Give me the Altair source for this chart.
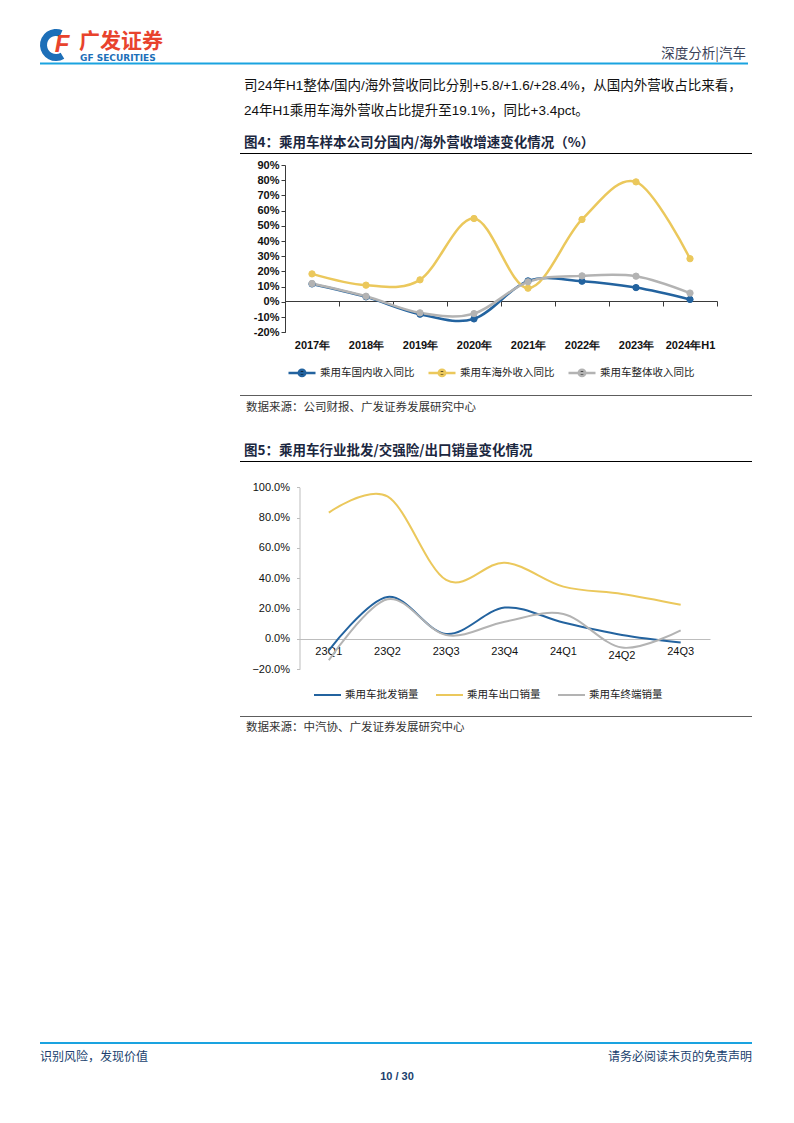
import altair as alt
import pandas as pd

W, H = 778, 1107


def P(v):
    """page pixel -> chart pixel (page has 8px margin)"""
    return v - 8


# ---------------- data ----------------
years = ["2017年", "2018年", "2019年", "2020年", "2021年", "2022年", "2023年", "2024年H1"]
s1_names = ["乘用车国内收入同比", "乘用车海外收入同比", "乘用车整体收入同比"]
s1_colors = ["#23639f", "#ebc85c", "#b3b3b3"]
domestic = [11.8, 3.3, -8.1, -11.2, 13.8, 13.6, 9.4, 1.6]
overseas = [18.4, 11.0, 14.5, 54.8, 9.0, 54.2, 78.9, 28.4]
overall = [12.1, 3.7, -7.2, -7.7, 13.2, 17.1, 16.9, 5.8]
y1_ticks = [-20, -10, 0, 10, 20, 30, 40, 50, 60, 70, 80, 90]

quarters = ["23Q1", "23Q2", "23Q3", "23Q4", "24Q1", "24Q2", "24Q3"]
s2_names = ["乘用车批发销量", "乘用车出口销量", "乘用车终端销量"]
s2_colors = ["#23639f", "#ebc85c", "#b3b3b3"]
wholesale = [-7.5, 27.7, 3.3, 20.7, 10.8, 2.6, -2.4]
export = [83.3, 94.0, 38.9, 50.3, 34.5, 29.7, 22.6]
retail = [-14.0, 26.2, 2.6, 11.4, 16.5, -5.7, 5.7]
y2_ticks = [-20, 0, 20, 40, 60, 80, 100]

header_right = "深度分析|汽车"
logo_cn = "广发证券"
logo_en = "GF SECURITIES"
body_lines = [
    "司24年H1整体/国内/海外营收同比分别+5.8/+1.6/+28.4%，从国内外营收占比来看，",
    "24年H1乘用车海外营收占比提升至19.1%，同比+3.4pct。",
]
fig4_title = "图4：乘用车样本公司分国内/海外营收增速变化情况（%）"
fig5_title = "图5：乘用车行业批发/交强险/出口销量变化情况"
src4 = "数据来源：公司财报、广发证券发展研究中心"
src5 = "数据来源：中汽协、广发证券发展研究中心"
footer_left = "识别风险，发现价值"
footer_right = "请务必阅读末页的免责声明"
page_no = "10 / 30"

CJK = "Noto Sans CJK SC"
LAT = "Liberation Sans"
MIX = "Liberation Sans Narrow, Liberation Sans, Noto Sans CJK SC"

one = pd.DataFrame({"k": [0]})


def txt(s, x, y, size=12, color="#000", weight="normal", align="left", font=CJK, style="normal"):
    return alt.Chart(pd.DataFrame({"t": [s]})).mark_text(
        align=align, baseline="middle", fontSize=size, color=color,
        fontWeight=weight, font=font, fontStyle=style
    ).encode(x=alt.value(P(x)), y=alt.value(P(y)), text="t:N")


def hrule(x1, x2, y, color="#000", width=1.0):
    return alt.Chart(one).mark_rule(color=color, strokeWidth=width).encode(
        x=alt.value(P(x1)), x2=alt.value(P(x2)), y=alt.value(P(y)), y2=alt.value(P(y))
    )


# ---------------- page furniture ----------------
logo_arc = alt.Chart(one).mark_arc(
    innerRadius=9, outerRadius=16, theta=2.6, theta2=6.7, color="#1d6fb8"
).encode(x=alt.value(P(56)), y=alt.value(P(45)))

furniture = [
    logo_arc,
    txt("F", 62, 45, size=24, color="#e8432d", weight="bold", align="center", font=LAT, style="italic"),
    txt(logo_cn, 79, 42, size=21, color="#e8432d", weight="bold"),
    txt(logo_en, 80, 58, size=9, color="#1d6fb8", weight="bold", font="DejaVu Sans"),
    txt(header_right, 746, 54, size=13.5, color="#3b4258", align="right"),
    hrule(40, 748, 63.5, color="#1aa3e0", width=2),
    txt(body_lines[0], 244, 86, size=13.5, color="#111", font=MIX),
    txt(body_lines[1], 244, 111, size=13.5, color="#111", font=MIX),
    txt(fig4_title, 244, 143, size=13.5, color="#1b2740", weight="bold"),
    hrule(240, 752, 153.5, color="#000", width=1),
    hrule(240, 752, 395.5, color="#333", width=0.8),
    txt(src4, 246, 408, size=11.5, color="#333"),
    txt(fig5_title, 244, 451, size=13.5, color="#1b2740", weight="bold"),
    hrule(240, 752, 461.5, color="#000", width=1),
    hrule(240, 752, 716.5, color="#333", width=0.8),
    txt(src5, 246, 728, size=11.5, color="#333"),
    hrule(40, 752, 1043, color="#1aa3e0", width=2),
    txt(footer_left, 40, 1057, size=12, color="#203f6e"),
    txt(footer_right, 752, 1057, size=12, color="#203f6e", align="right"),
    txt(page_no, 397, 1077, size=11, color="#203f6e", weight="bold", align="center", font=LAT),
]

# ---------------- chart 1 ----------------
df1 = pd.DataFrame({
    "year": years * 3,
    "series": [n for n in s1_names for _ in years],
    "value": domestic + overseas + overall,
})

x1 = alt.X(
    "year:N", sort=years,
    scale=alt.Scale(type="band", domain=years, range=[P(285), P(717)], paddingInner=0, paddingOuter=0),
    axis=alt.Axis(
        orient="bottom", offset=P(301) - H, title=None, labelAngle=0, tickBand="extent",
        tickSize=5, labelPadding=33, domainColor="#3a3a3a", tickColor="#3a3a3a",
        labelFont=LAT, labelFontSize=11, labelFontWeight="bold", labelColor="#111",
        grid=False, domainWidth=1,
    ),
)
y1 = alt.Y(
    "value:Q",
    scale=alt.Scale(domain=[-20, 90], range=[P(332.3), P(165)], nice=False, zero=False),
    axis=alt.Axis(
        orient="left", offset=-P(285), values=y1_ticks, title=None, grid=False,
        labelExpr="datum.value + '%'", tickSize=4, labelPadding=2,
        domainColor="#3a3a3a", tickColor="#3a3a3a", labelFont=LAT, labelFontSize=11,
        labelFontWeight="bold", labelColor="#111",
    ),
)

LEG_SIZE = 729
leg_common = dict(
    orient="none", direction="horizontal", title=None, symbolSize=LEG_SIZE,
    labelFont=CJK, labelFontSize=10.5, labelColor="#222", labelOffset=3,
    padding=0, symbolOffset=0,
)

line1 = alt.Chart(df1).mark_line(interpolate="cardinal", strokeWidth=2.5).encode(
    x=x1, y=y1,
    color=alt.Color("series:N", scale=alt.Scale(domain=s1_names, range=s1_colors), sort=s1_names, legend=None),
    order=alt.Order("year_idx:Q"),
).transform_calculate(year_idx="indexof(%s, datum.year)" % str(years))

leg1 = alt.Legend(
    legendX=P(287), legendY=P(371) - 13.5,
    symbolType="M-1,0L1,0M0.24,0A0.24,0.24,0,1,1,-0.24,0A0.24,0.24,0,1,1,0.24,0Z",
    symbolStrokeWidth=2.5, columnPadding=8, **leg_common)

pts1 = alt.Chart(df1).mark_point(filled=True, size=40, opacity=1, strokeWidth=1).encode(
    x=x1, y=y1,
    color=alt.Color("series:N", scale=alt.Scale(domain=s1_names, range=s1_colors), sort=s1_names, legend=leg1),
    stroke=alt.Stroke("series:N", scale=alt.Scale(domain=s1_names, range=s1_colors), sort=s1_names, legend=leg1),
)

chart1 = alt.layer(line1, pts1)

# ---------------- chart 2 ----------------
df2 = pd.DataFrame({
    "q": quarters * 3,
    "series": [n for n in s2_names for _ in quarters],
    "value": wholesale + export + retail,
})

x2 = alt.X(
    "q:N", sort=quarters,
    scale=alt.Scale(type="band", domain=quarters, range=[P(299.5), P(710)], paddingInner=0, paddingOuter=0),
    axis=alt.Axis(
        orient="bottom", offset=P(639) - H, title=None, labelAngle=0, ticks=False,
        labelPadding={"condition": {"test": "datum.value == '24Q2'", "value": 10}, "value": 6},
        domainColor="#bdbdbd", labelFont=LAT, labelFontSize=11,
        labelColor="#111", grid=False,
    ),
)
y2 = alt.Y(
    "value:Q",
    scale=alt.Scale(domain=[-20, 100], range=[P(669.3), P(487.3)], nice=False, zero=False),
    axis=alt.Axis(
        orient="left", offset=-P(299.5), values=y2_ticks, title=None, grid=False,
        labelExpr="format(datum.value, '.1f') + '%'", tickSize=3,
        labelPadding=7, domainColor="#bdbdbd", tickColor="#bdbdbd", labelFont=LAT,
        labelFontSize=11, labelColor="#111",
    ),
)

line2 = alt.Chart(df2).mark_line(interpolate="cardinal", strokeWidth=2).encode(
    x=x2, y=y2,
    color=alt.Color("series:N", scale=alt.Scale(domain=s2_names, range=s2_colors), sort=s2_names,
                    legend=alt.Legend(
                        legendX=P(313), legendY=P(694) - 13.5, symbolType="M-1,0L1,0",
                        symbolStrokeWidth=2, columnPadding=13, **leg_common)),
    order=alt.Order("q_idx:Q"),
).transform_calculate(q_idx="indexof(%s, datum.q)" % str(quarters))

# ---------------- assemble ----------------
chart = alt.layer(*furniture, chart1, line2).resolve_scale(
    x="independent", y="independent", color="independent"
).properties(
    width=W, height=H, autosize=alt.AutoSizeParams(type="none"), padding=0
).configure(background="white").configure_view(stroke=None)

chart.save("out.html", embed_options={"renderer": "svg", "actions": False})
